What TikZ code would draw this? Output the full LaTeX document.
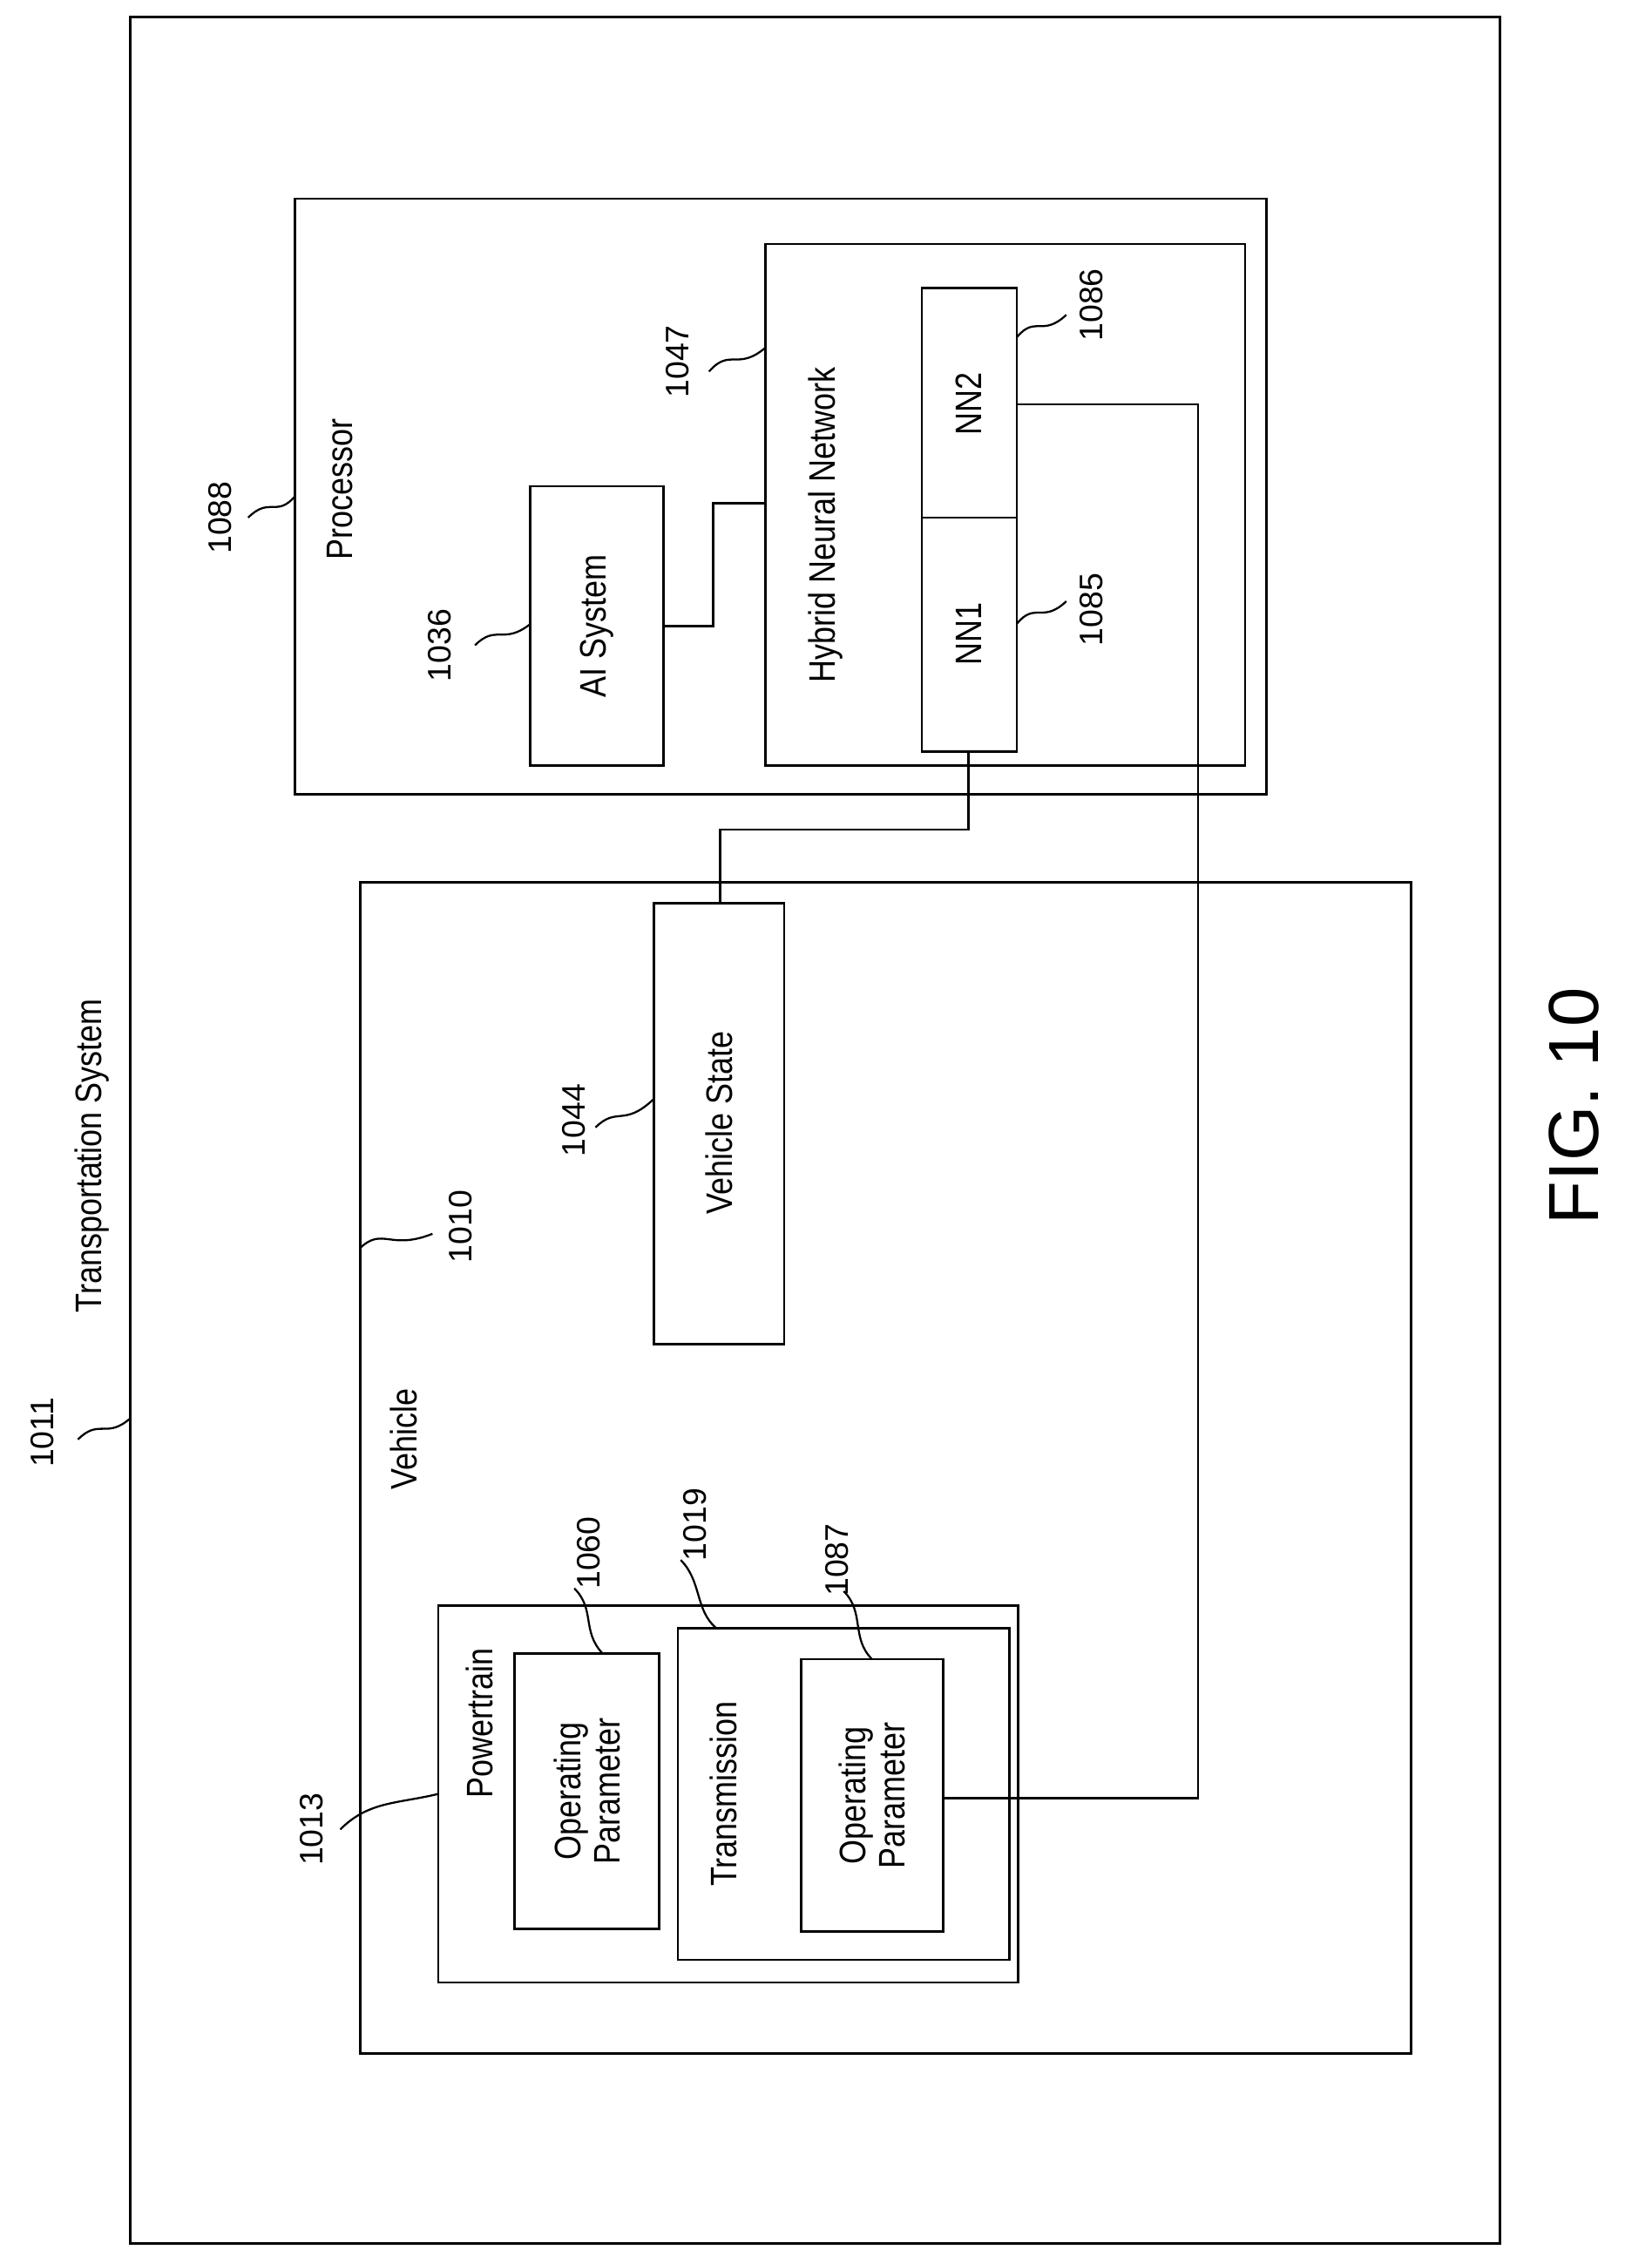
\documentclass[tikz,border=0pt]{standalone}
\usepackage{fontspec}
\setmainfont{Liberation Sans}
\begin{document}
\begin{tikzpicture}[x=1pt,y=-1pt,
  box/.style={draw,line width=1.6pt},
  lbl/.style={rotate=90,font=\fontsize{26}{28}\selectfont,inner sep=0pt},
  num/.style={rotate=90,font=\fontsize{23}{25}\selectfont,inner sep=0pt},
  lead/.style={line width=1.4pt},
  wire/.style={line width=1.6pt}]
\useasboundingbox (0,0) rectangle (1165,1586.6);
\draw[box] (92,12) rectangle (1058,1582);
\node[lbl,xscale=0.85] (ts) at (65,815) {Transportation System};
\node[num] (n1011) at (30,1010) {1011};
\draw[lead] (55,1015) .. controls (70,1000) and (75,1015) .. (92,1000);
% Processor
\draw[box] (208,140) rectangle (893,560);
\node[lbl,xscale=0.85] (proc) at (240,345) {Processor};
\node[num] (n1088) at (155,365) {1088};
\draw[lead] (175,365) .. controls (190,350) and (195,365) .. (208,350);
\node[box,minimum width=197pt,minimum height=94pt,rotate=90,inner sep=0pt] (ai) at (421,441.5) {};
\node[lbl,xscale=0.85] at (421,441.5) {AI System};
\node[num] (n1036) at (310,455) {1036};
\draw[lead] (335,455) .. controls (350,440) and (355,455) .. (374,440);
\draw[box] (540,172) rectangle (878,540);
\coordinate (hnn) at (540,355);
\node[lbl,xscale=0.85] at (582,370) {Hybrid Neural Network};
\node[num] (n1047) at (478,255) {1047};
\draw[lead] (500,262) .. controls (515,245) and (520,262) .. (540,245);
\draw[box] (650,203) rectangle (717,365);
\draw[box] (650,365) rectangle (717,530);
\node[lbl,xscale=0.85] at (683,285) {NN2};
\node[lbl,xscale=0.85] at (683,447) {NN1};
\coordinate (nn1b) at (683,530);
\coordinate (nn2r) at (717,285);
\node[num] (n1086) at (770,215) {1086};
\draw[lead] (717,238) .. controls (730,222) and (735,238) .. (752,222);
\node[num] (n1085) at (770,430) {1085};
\draw[lead] (717,440) .. controls (730,424) and (735,440) .. (752,424);
\draw[wire] (ai.south) -- (503,441.5) -- (503,355) -- (hnn);
% Vehicle
\draw[box] (254,622) rectangle (995,1448);
\node[lbl,xscale=0.85] at (285,1015) {Vehicle};
\node[num] (n1010) at (325,865) {1010};
\draw[lead] (254,880) .. controls (270,865) and (275,882) .. (305,870);
\draw[box] (461,637) rectangle (553,948);
\coordinate (vs) at (508,637);
\node[lbl,xscale=0.85] at (507,792) {Vehicle State};
\node[num] (n1044) at (405,790) {1044};
\draw[lead] (420,795) .. controls (435,780) and (440,795) .. (461,775);
\draw[wire] (nn1b) -- (683,585) -- (508,585) -- (vs);
% Powertrain
\draw[box] (309,1132) rectangle (718,1398);
\node[lbl,xscale=0.85] at (338,1215) {Powertrain};
\node[num] (n1013) at (220,1290) {1013};
\draw[lead] (240,1290) .. controls (260,1270) and (280,1272) .. (309,1265);
\draw[box] (363,1166) rectangle (465,1360);
\node[lbl,xscale=0.85,align=center] at (414,1263) {Operating\\Parameter};
\node[num] (n1060) at (415,1095) {1060};
\draw[lead] (405,1120) .. controls (420,1135) and (410,1150) .. (425,1166);
\draw[box] (478,1148) rectangle (712,1382);
\node[lbl,xscale=0.85] at (510,1265) {Transmission};
\node[num] (n1019) at (490,1075) {1019};
\draw[lead] (480,1100) .. controls (495,1115) and (490,1135) .. (505,1148);
\draw[box] (565,1170) rectangle (665,1362);
\coordinate (op2) at (665,1268);
\node[lbl,xscale=0.85,align=center] at (615,1266) {Operating\\Parameter};
\node[num] (n1087) at (590,1100) {1087};
\draw[lead] (595,1122) .. controls (610,1137) and (600,1155) .. (615,1170);
\draw[wire] (nn2r) -- (845,285) -- (845,1268) -- (op2);
\node[rotate=90,font=\fontsize{50}{54}\selectfont,inner sep=0pt] (fig) at (1110,780) {FIG. 10};
\end{tikzpicture}
\end{document}
